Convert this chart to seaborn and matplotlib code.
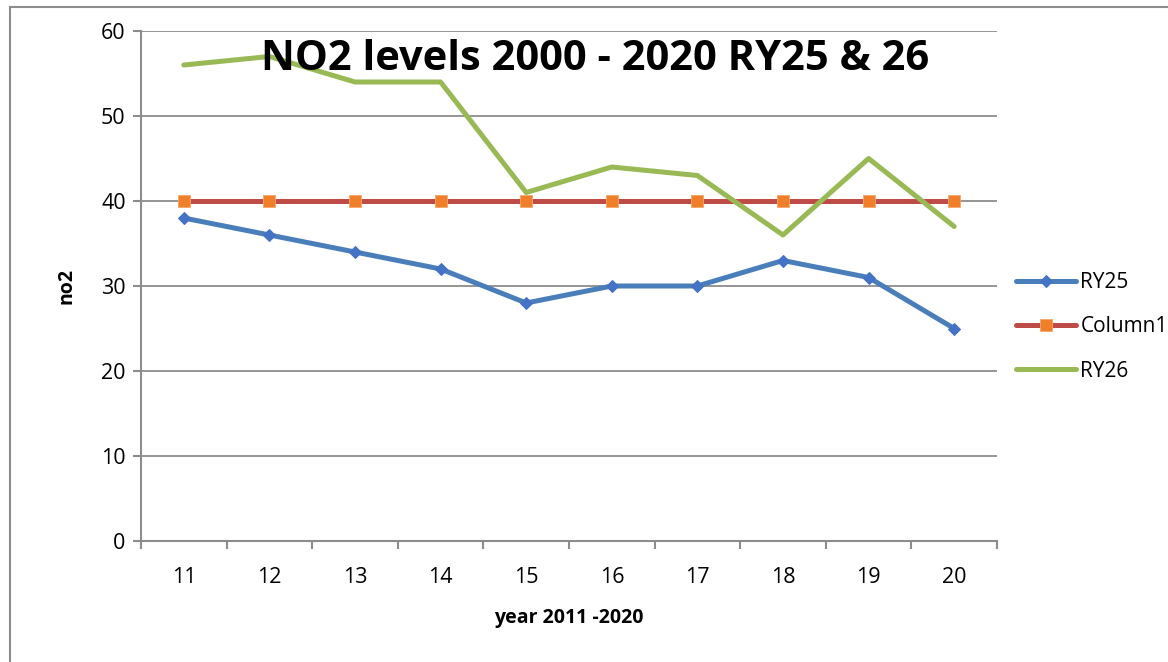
import matplotlib
matplotlib.use("Agg")
import matplotlib.pyplot as plt
import matplotlib.patches as patches
from matplotlib.ticker import FixedLocator
import pandas as pd
import seaborn as sns

sns.set_style("white")
plt.rcParams['font.family'] = ['Open Sans', 'DejaVu Sans']
plt.rcParams['text.color'] = 'black'
plt.rcParams['xtick.color'] = 'black'
plt.rcParams['ytick.color'] = 'black'
plt.rcParams['axes.labelcolor'] = 'black'

years = ["11", "12", "13", "14", "15", "16", "17", "18", "19", "20"]
ry25 = [38, 36, 34, 32, 28, 30, 30, 33, 31, 25]
column1 = [40, 40, 40, 40, 40, 40, 40, 40, 40, 40]
ry26 = [56, 57, 54, 54, 41, 44, 43, 36, 45, 37]

df = pd.DataFrame({"pos": range(len(years)), "RY25": ry25,
                   "Column1": column1, "RY26": ry26})

fig = plt.figure(figsize=(11.68, 6.62), dpi=100)
ax = fig.add_axes([141/1168, 1-541/662, (997-141)/1168, (541-31)/662])

# outer chart border (left/top visible only)
fig.patches.append(patches.Rectangle((10/1168, -0.1), 1.2, 1-7/662+0.1,
                   transform=fig.transFigure, fill=False,
                   edgecolor="#8c8c8c", linewidth=1.5, zorder=0))

sns.lineplot(data=df, x="pos", y="RY25", ax=ax, color="#4A7EBB", lw=3.6,
             marker="D", markersize=6.5, markerfacecolor="#4472C4",
             markeredgecolor="#4472C4", label="RY25")
sns.lineplot(data=df, x="pos", y="Column1", ax=ax, color="#BE4B48", lw=3.6,
             marker="s", markersize=8.5, markerfacecolor="#F07F2A",
             markeredgecolor="#F9A66A", markeredgewidth=0.6, label="Column1")
sns.lineplot(data=df, x="pos", y="RY26", ax=ax, color="#98B954", lw=3.6,
             label="RY26")

ax.set_xlim(-0.5, len(years) - 0.5)
ax.set_ylim(0, 60)
ax.set_yticks(range(0, 61, 10))
ax.xaxis.set_major_locator(FixedLocator([i - 0.5 for i in range(len(years) + 1)]))
ax.xaxis.set_major_formatter(plt.NullFormatter())
ax.xaxis.set_minor_locator(FixedLocator(list(range(len(years)))))
ax.set_xticklabels(years, minor=True)
ax.tick_params(axis="x", which="major", length=6, width=1.5, color="#8c8c8c",
               direction="out", bottom=True)
ax.tick_params(axis="x", which="minor", length=0, labelsize=15.5, pad=19)
ax.tick_params(axis="y", length=6, width=1.5, color="#8c8c8c", direction="out",
               left=True, labelsize=15.5, pad=5)

ax.grid(axis="y", color="#8c8c8c", linewidth=1.3)
ax.grid(axis="x", visible=False)
for s in ["top", "right"]:
    ax.spines[s].set_visible(False)
for s in ["left", "bottom"]:
    ax.spines[s].set_color("#8c8c8c")
    ax.spines[s].set_linewidth(1.5)

ax.set_xlabel("year 2011 -2020", fontsize=14, fontweight="bold", labelpad=14)
ax.set_ylabel("no2", fontsize=14, fontweight="bold", labelpad=18)
ax.text(0.53, 0.944, "NO2 levels 2000 - 2020 RY25 & 26", transform=ax.transAxes,
        ha="center", va="center", fontsize=30, fontweight="bold")

ax.legend(loc="center left", bbox_to_anchor=(1.0, 0.42), frameon=False,
          fontsize=15, handlelength=2.9, handletextpad=0.2, labelspacing=1.12)

fig.savefig("out.png", dpi=100)
